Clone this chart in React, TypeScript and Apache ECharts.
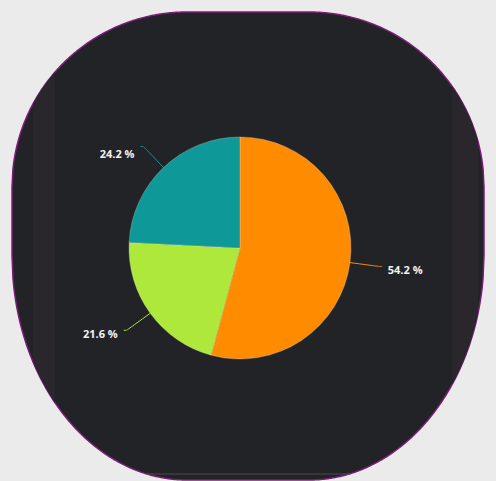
import React, { useEffect, useRef } from "react";
import * as echarts from "echarts";

const categories = ["A", "B", "C"];
const values = [54.2, 21.6, 24.2];
const colors = ["#ff8c00", "#aee83a", "#0e9898"];
const labelShift = [3, 3, 7];

// decorative panel geometry
const P = { left: 12, right: 484, top: 12, bottom: 480, rx: 175, ryTop: 175, ryBot: 225 };

function topY(x: number): number {
  const cl = P.left + P.rx;
  const cr = P.right - P.rx;
  const cy = P.top + P.ryTop;
  if (x < cl) {
    const t = Math.min(1, (cl - x) / P.rx);
    return cy - P.ryTop * Math.sqrt(1 - t * t);
  }
  if (x > cr) {
    const t = Math.min(1, (x - cr) / P.rx);
    return cy - P.ryTop * Math.sqrt(1 - t * t);
  }
  return P.top;
}
function bottomY(x: number): number {
  const cl = P.left + P.rx;
  const cr = P.right - P.rx;
  const cy = P.bottom - P.ryBot;
  if (x < cl) {
    const t = Math.min(1, (cl - x) / P.rx);
    return cy + P.ryBot * Math.sqrt(1 - t * t);
  }
  if (x > cr) {
    const t = Math.min(1, (x - cr) / P.rx);
    return cy + P.ryBot * Math.sqrt(1 - t * t);
  }
  return P.bottom;
}
function band(a: number, b: number, step = 0.5): number[][] {
  const pts: number[][] = [];
  for (let x = a; x <= b + 1e-6; x += step) pts.push([x, topY(x)]);
  for (let x = b; x >= a - 1e-6; x -= step) pts.push([x, bottomY(x)]);
  return pts;
}

export default function App() {
  const ref = useRef<HTMLDivElement>(null);
  useEffect(() => {
    document.body.style.margin = "0";
    const chart = echarts.init(ref.current!, undefined, { renderer: "svg" });
    chart.setOption({
      animation: false,
      backgroundColor: "#ebebeb",
      graphic: [
        {
          type: "polygon",
          z: -10,
          shape: { points: band(P.left, P.right, 1) },
          style: { fill: "#222327", stroke: "#7d1c78", lineWidth: 1.5 },
        },
        {
          type: "polygon",
          z: -9,
          shape: { points: band(33, 55) },
          style: { fill: "#29262c" },
        },
        {
          type: "polygon",
          z: -9,
          shape: { points: band(452, 478) },
          style: { fill: "#29262c" },
        },
        {
          type: "line",
          z: -5,
          shape: { x1: 147, y1: 474, x2: 350, y2: 474 },
          style: { stroke: "#4a4c52", lineWidth: 1 },
        },
      ],
      series: [
        {
          type: "pie",
          center: [240, 248],
          radius: [0, 111],
          startAngle: 90,
          clockwise: true,
          data: categories.map((c, i) => ({
            name: c,
            value: values[i],
            itemStyle: { color: colors[i] },
          })),
          itemStyle: { borderColor: "rgba(220,220,220,0.5)", borderWidth: 0.6 },
          label: {
            show: true,
            formatter: (p: any) => `${p.value} %`,
            color: "#f2f2f2",
            fontFamily: "Open Sans",
            fontWeight: "bold",
            fontSize: 11,
            distanceToLabelLine: 6,
          },
          labelLayout: (params: any) => ({ dy: labelShift[params.dataIndex] || 0 }),
          labelLine: { show: true, length: 29, length2: 3, smooth: 0.2, lineStyle: { width: 1 } },
        },
      ],
    });
    return () => chart.dispose();
  }, []);
  return <div ref={ref} style={{ width: 496, height: 481 }} />;
}
